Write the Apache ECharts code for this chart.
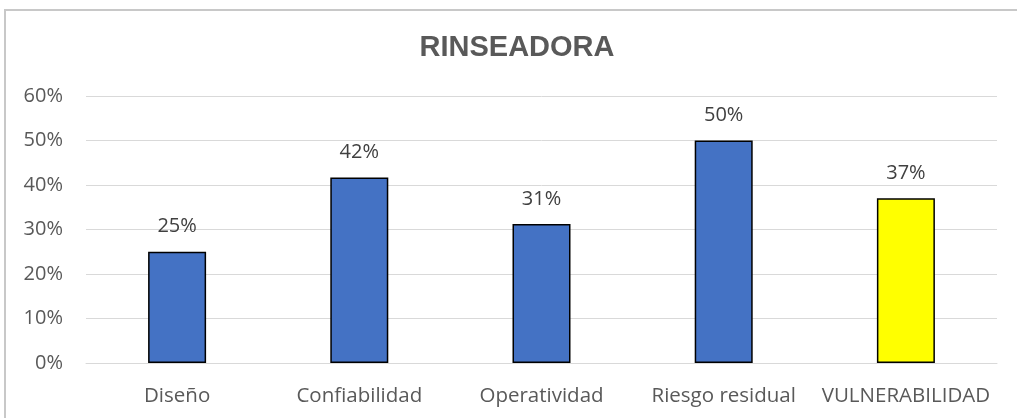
<!DOCTYPE html>
<html>
<head>
<meta charset="utf-8">
<script src="https://cdn.jsdelivr.net/npm/echarts@6/dist/echarts.min.js"></script>
<style>
html,body{margin:0;padding:0;background:#fff;overflow:hidden;width:1017px;height:418px;}
#frame{position:absolute;left:4px;top:9px;width:1013px;height:409px;border-left:2px solid #c8c8c8;border-top:2px solid #c8c8c8;box-sizing:border-box;}
#c{position:absolute;left:0;top:0;width:1017px;height:418px;}
</style>
</head>
<body>
<div id="frame"></div>
<div id="c"></div>
<script>
const titleText = 'RINSEADORA';
const categories = ['Diseño', 'Confiabilidad', 'Operatividad', 'Riesgo residual', 'VULNERABILIDAD'];
const values = [0.25, 0.4167, 0.3125, 0.50, 0.37];
const barColors = ['#4472C4', '#4472C4', '#4472C4', '#4472C4', '#FFFF00'];
const yTicks = { min: 0, max: 0.6, interval: 0.1 };

const chart = echarts.init(document.getElementById('c'));
chart.setOption({
  animation: false,
  backgroundColor: 'transparent',
  title: {
    text: titleText,
    left: 512,
    top: 28,
    textAlign: 'center',
    textStyle: { fontFamily: 'Liberation Sans', fontWeight: 'bold', fontSize: 29, color: '#595959' }
  },
  grid: { left: 86, right: 20, top: 96, bottom: 55, containLabel: false },
  xAxis: {
    type: 'category',
    data: categories,
    axisLine: { show: true, lineStyle: { color: '#d9d9d9', width: 1 } },
    axisTick: { show: false },
    axisLabel: { interval: 0, color: '#595959', fontFamily: 'Open Sans', fontSize: 20.5, margin: 23 }
  },
  yAxis: {
    type: 'value',
    min: yTicks.min, max: yTicks.max, interval: yTicks.interval,
    axisLine: { show: false },
    axisTick: { show: false },
    splitLine: { lineStyle: { color: '#d9d9d9', width: 1 } },
    axisLabel: {
      color: '#595959', fontFamily: 'Open Sans', fontSize: 20, margin: 23,
      formatter: v => Math.round(v * 100) + '%'
    }
  },
  series: [{
    type: 'bar',
    barWidth: 58,
    data: values.map((v, i) => ({ value: v, itemStyle: { color: barColors[i] } })),
    itemStyle: { borderColor: '#000000', borderWidth: 1.5 },
    label: {
      show: true, position: 'top', distance: 15,
      color: '#404040', fontFamily: 'Open Sans', fontSize: 20,
      formatter: p => Math.round(p.value * 100) + '%'
    }
  }]
});
</script>
</body>
</html>
